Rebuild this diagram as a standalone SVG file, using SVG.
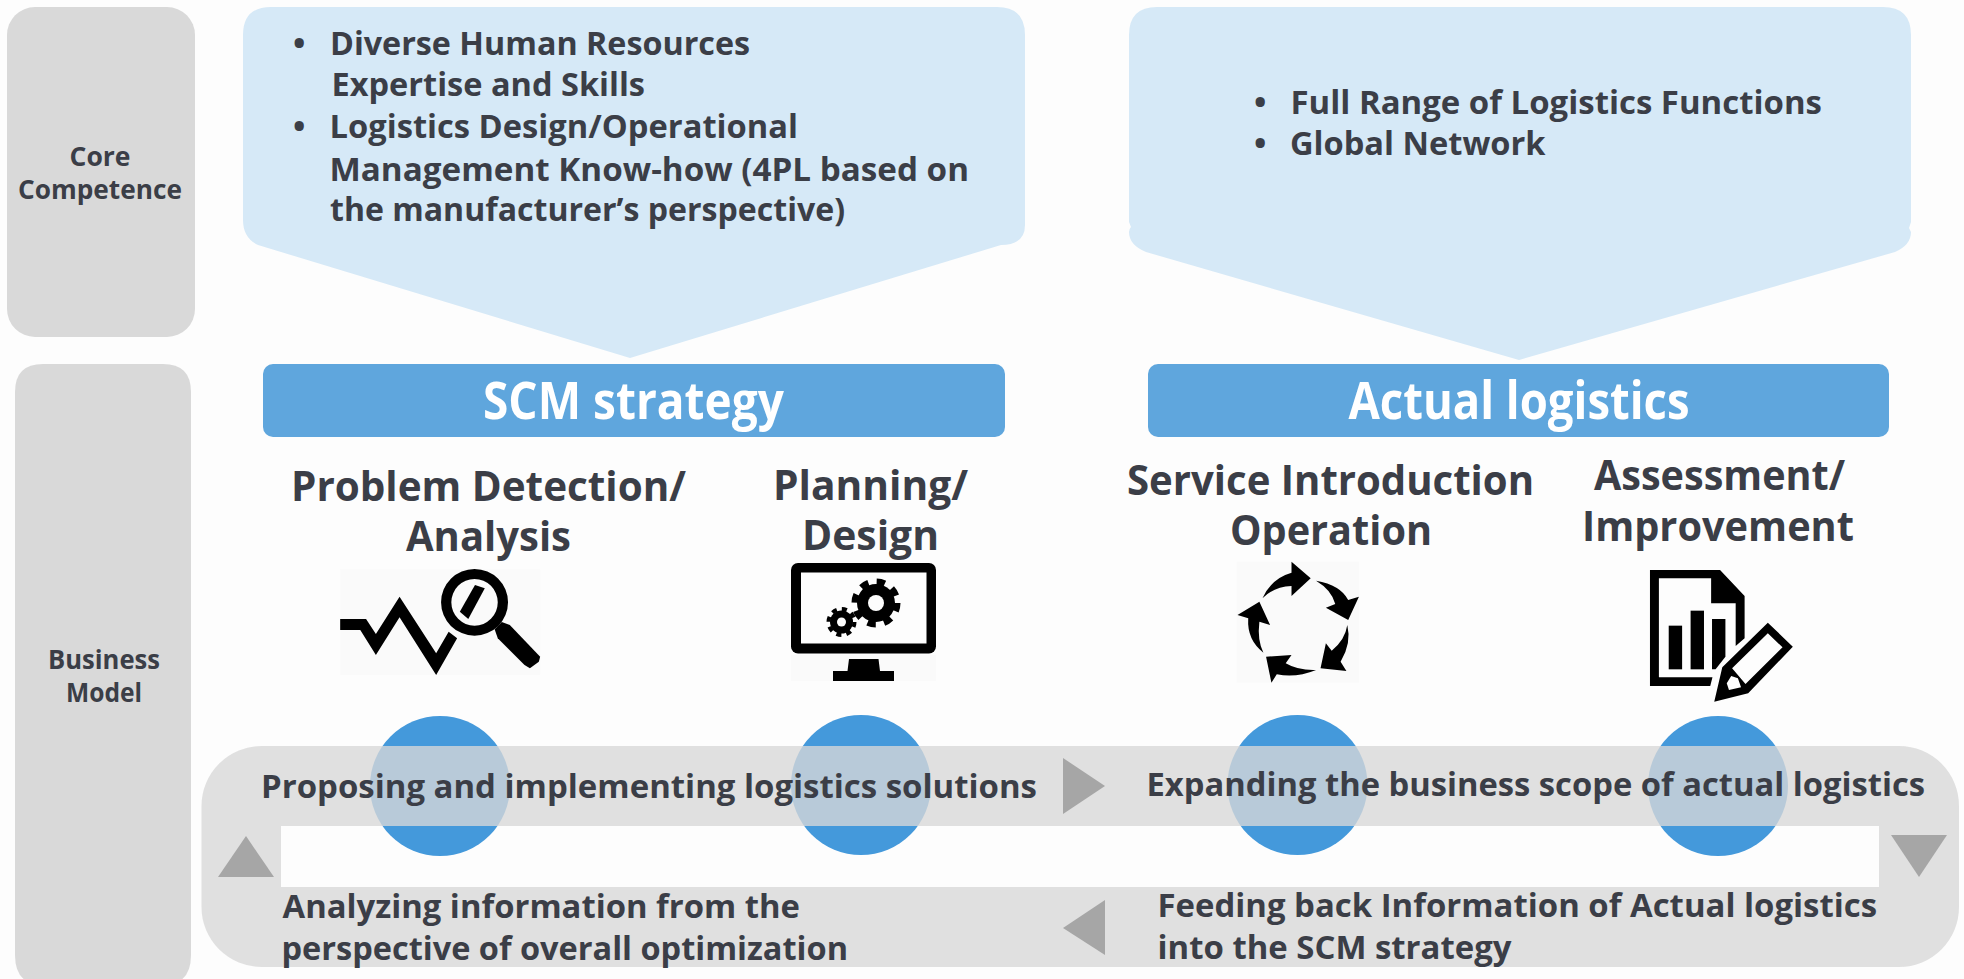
<svg xmlns="http://www.w3.org/2000/svg" width="1964" height="979" viewBox="0 0 1964 979">
<style>
text{font-family:"Open Sans","Noto Sans","Liberation Sans",sans-serif;font-weight:700;fill:#3b3e47}
.side{font-size:27px;text-anchor:middle}
.body{font-size:33px}
.head{font-size:42px}
.band{font-size:33px}
.title{font-size:52px;fill:#fff}
.grey{fill:#d9d9d9}
.pent{fill:#d6e9f7}
.hdr{fill:#5fa6dd}
.dot{fill:#4499db}
.tri{fill:#a6a6a6}
.icn{fill:#000}
.ibg{fill:#fafafa}
</style>
<rect width="1964" height="979" fill="#fdfdfd"/>

<g id="core-competence">
<rect class="grey" x="7" y="7" width="188" height="330" rx="28"/>
<text class="side" x="100" y="166" textLength="61" lengthAdjust="spacingAndGlyphs">Core</text>
<text class="side" x="100" y="199" textLength="164" lengthAdjust="spacingAndGlyphs">Competence</text>
</g>
<g id="business-model">
<path class="grey" d="M43 364H163Q191 364 191 392V955Q191 985 163 985H43Q15 985 15 955V392Q15 364 43 364Z"/>
<text class="side" x="104" y="669" textLength="112" lengthAdjust="spacingAndGlyphs">Business</text>
<text class="side" x="104" y="702" textLength="76" lengthAdjust="spacingAndGlyphs">Model</text>
</g>

<g id="competence-left">
<path class="pent" d="M271 7H997Q1025 7 1025 35V225Q1025 245 1001 245L630 358L258 245Q243 238 243 220V35Q243 7 271 7Z"/>
<text class="body" x="293" y="55">•</text>
<text class="body" x="330" y="55" textLength="420" lengthAdjust="spacingAndGlyphs">Diverse Human Resources</text>
<text class="body" x="331.500" y="96" textLength="313.500" lengthAdjust="spacingAndGlyphs">Expertise and Skills</text>
<text class="body" x="293" y="138">•</text>
<text class="body" x="329.500" y="138" textLength="468.500" lengthAdjust="spacingAndGlyphs">Logistics Design/Operational</text>
<text class="body" x="329.500" y="181" textLength="639.500" lengthAdjust="spacingAndGlyphs">Management Know-how (4PL based on</text>
<text class="body" x="330" y="221" textLength="515" lengthAdjust="spacingAndGlyphs">the manufacturer’s perspective)</text>
</g>
<g id="competence-right">
<path class="pent" d="M1157 7H1883Q1911 7 1911 35V222L1909 228Q1911 232 1911 232Q1911 245 1895 252L1519 360L1146 252Q1129 245 1129 232Q1129 229 1131 227L1129 222V35Q1129 7 1157 7Z"/>
<text class="body" x="1254" y="114">•</text>
<text class="body" x="1290.500" y="114" textLength="531.500" lengthAdjust="spacingAndGlyphs">Full Range of Logistics Functions</text>
<text class="body" x="1254" y="155">•</text>
<text class="body" x="1290" y="155" textLength="255.500" lengthAdjust="spacingAndGlyphs">Global Network</text>
</g>

<g id="scm-strategy">
<rect class="hdr" x="263" y="364" width="742" height="73" rx="10"/>
<text class="title" x="483" y="419" textLength="301" lengthAdjust="spacingAndGlyphs">SCM strategy</text>
</g>
<g id="actual-logistics">
<rect class="hdr" x="1148" y="364" width="741" height="73" rx="10"/>
<text class="title" x="1348.500" y="419" textLength="341" lengthAdjust="spacingAndGlyphs">Actual logistics</text>
</g>

<g id="step-analysis">
<text class="head" x="291" y="501" textLength="395" lengthAdjust="spacingAndGlyphs">Problem Detection/</text>
<text class="head" x="406" y="551" textLength="165" lengthAdjust="spacingAndGlyphs">Analysis</text>
<g transform="translate(300 540) scale(.4464 .3333)">
<rect class="ibg" x="90" y="88" width="448" height="317"/>
<path class="icn" d="M90 237H148L170 282L223 170L305 340L333 275L352 295L305 405L223 232L170 345L135 270H90Z"/>
<path class="icn" fill-rule="evenodd" d="M316 187A75 100 0 1 1 466 187A75 100 0 1 1 316 187ZM339 187A52 70 0 1 0 443 187A52 70 0 1 0 339 187Z"/>
<path class="icn" d="M392 135L414 145L377 237L358 215Z"/>
<path class="icn" d="M436 268L452 246L470 255L538 350L535 365L515 385L503 375L443 295Z"/>
</g>
</g>
<g id="step-design">
<text class="head" x="773" y="500" textLength="195" lengthAdjust="spacingAndGlyphs">Planning/</text>
<text class="head" x="802" y="550" textLength="137" lengthAdjust="spacingAndGlyphs">Design</text>
<rect class="ibg" x="791" y="655" width="145" height="26"/>
<rect class="icn" x="791" y="563" width="145" height="90.500" rx="7"/>
<rect x="801" y="572.500" width="125.500" height="71" fill="#fdfdfd"/>
<path class="icn" d="M849 659H878.500L880 671H894V681H833V671H847.500Z"/>
<circle class="icn" cx="876" cy="603" r="19"/>
<circle cx="876" cy="603" r="21" fill="none" stroke="#000" stroke-width="7" stroke-dasharray="8.250 8.250"/>
<circle cx="876" cy="603" r="8" fill="#fdfdfd"/>
<circle class="icn" cx="841.500" cy="622" r="11.500"/>
<circle cx="841.500" cy="622" r="13" fill="none" stroke="#000" stroke-width="4" stroke-dasharray="5.100 5.100"/>
<circle cx="841.500" cy="622" r="4.500" fill="#fdfdfd"/>
</g>
<g id="step-operation">
<text class="head" x="1127" y="495" textLength="407" lengthAdjust="spacingAndGlyphs">Service Introduction</text>
<text class="head" x="1230" y="545" textLength="202" lengthAdjust="spacingAndGlyphs">Operation</text>
<g transform="translate(1200 540) scale(.4464 .3333)">
<rect class="ibg" x="82" y="65" width="274" height="363"/>
<path class="icn" d="M140 175Q160 115 205 98V65L248 115L205 168V138Q165 140 140 175Z"/>
<path class="icn" d="M260 122Q315 135 332 180L356 170L332 240L282 203L303 192Q295 150 260 122Z"/>
<path class="icn" d="M330 255Q340 310 315 365L328 393L270 385L282 310L295 332Q325 300 330 255Z"/>
<path class="icn" d="M260 390Q215 415 172 403L160 428L148 350L205 345L192 370Q220 392 260 390Z"/>
<path class="icn" d="M142 338Q105 300 108 235L84 225L133 185L157 255L133 245Q128 300 142 338Z"/>
</g>
</g>
<g id="step-improvement">
<text class="head" x="1594" y="490" textLength="251" lengthAdjust="spacingAndGlyphs">Assessment/</text>
<text class="head" x="1582" y="541" textLength="272" lengthAdjust="spacingAndGlyphs">Improvement</text>
<g transform="translate(1200 540) scale(.4464 .3333)">
<path class="icn" d="M1008 90H1165L1220 168V295L1200 318V190H1145V115H1028V412H1148L1143 438H1008Z"/>
<rect class="icn" x="1050" y="257" width="30" height="131"/>
<rect class="icn" x="1099" y="212" width="30" height="176"/>
<path class="icn" d="M1147 237H1177V350L1155 388H1147Z"/>
<path class="icn" fill-rule="evenodd" d="M1272 248L1328 320L1228 460L1152 485L1170 382ZM1272 280L1192 385L1222 432L1305 322ZM1190 408L1180 430L1185 450L1212 442L1205 415Z"/>
</g>
</g>

<g id="markers">
<circle class="dot" cx="440" cy="786" r="70"/>
<circle class="dot" cx="861" cy="785" r="70"/>
<circle class="dot" cx="1297.500" cy="785" r="70"/>
<circle class="dot" cx="1718" cy="786" r="70"/>
</g>

<g id="loop-band">
<path fill="#d8d8d8" fill-opacity=".79" fill-rule="evenodd" d="M262 746H1899A60 60 0 0 1 1959 806V907A60 60 0 0 1 1899 967H262A60 60 0 0 1 201.500 907V806A60 60 0 0 1 262 746ZM281 826V887H1879V826Z"/>
<text class="band" x="261" y="798" textLength="776" lengthAdjust="spacingAndGlyphs">Proposing and implementing logistics solutions</text>
<text class="band" x="1146.500" y="796" textLength="778.500" lengthAdjust="spacingAndGlyphs">Expanding the business scope of actual logistics</text>
<text class="band" x="282.500" y="918" textLength="517.500" lengthAdjust="spacingAndGlyphs">Analyzing information from the</text>
<text class="band" x="281.500" y="960" textLength="566.500" lengthAdjust="spacingAndGlyphs">perspective of overall optimization</text>
<text class="band" x="1157.500" y="917" textLength="719.500" lengthAdjust="spacingAndGlyphs">Feeding back Information of Actual logistics</text>
<text class="band" x="1157.500" y="959" textLength="354" lengthAdjust="spacingAndGlyphs">into the SCM strategy</text>
</g>

<g id="connectors">
<polygon class="tri" points="1063,758 1105,786 1063,814"/>
<polygon class="tri" points="1947,835 1891,835 1919,877"/>
<polygon class="tri" points="1105,900 1063,928 1105,955"/>
<polygon class="tri" points="218,877 274,877 246,836"/>
</g>
</svg>
